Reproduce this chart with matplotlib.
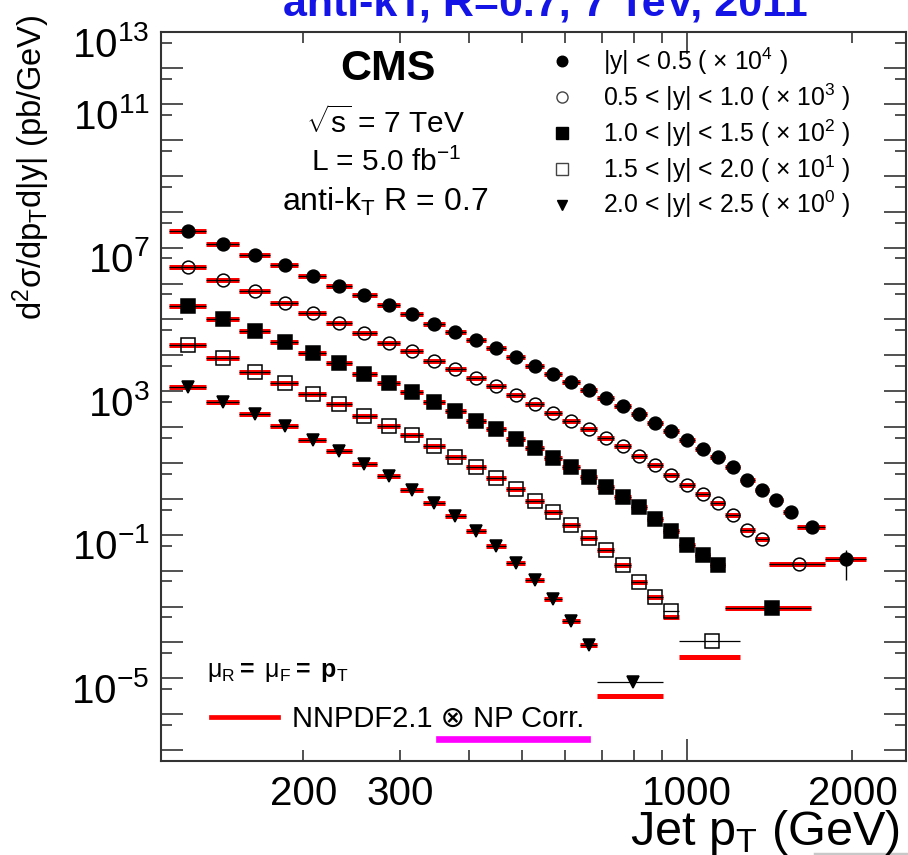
import numpy as np
import matplotlib.pyplot as plt
from matplotlib.lines import Line2D
from matplotlib.transforms import ScaledTranslation

plt.rcParams['font.family'] = ['Liberation Sans', 'DejaVu Sans']
plt.rcParams['mathtext.fontset'] = 'custom'
plt.rcParams['mathtext.rm'] = 'Liberation Sans'
plt.rcParams['mathtext.it'] = 'Liberation Sans:italic'
plt.rcParams['mathtext.bf'] = 'Liberation Sans:bold'

# CMS inclusive jet pT binning (GeV)
pt_edges = [114, 133, 153, 174, 196, 220, 245, 272, 300, 330, 362, 395, 430,
            468, 507, 548, 592, 638, 686, 737, 790, 846, 905, 967, 1032, 1101,
            1172, 1248, 1327, 1410, 1497, 1588]

# bin edges per rapidity slice (wide bins at the high-pT end)
edges_y0 = pt_edges[:32] + [1784, 2116]
edges_y1 = pt_edges[:30] + [1784]
edges_y2 = pt_edges[:27] + [1684]
edges_y3 = pt_edges[:24] + [1248]
edges_y4 = pt_edges[:19] + [905]

# measured d2sigma/dpT d|y| (pb/GeV), unscaled
xs_y0 = [2.85e3, 1.30e3, 6.25e2, 3.18e2, 1.62e2, 88.1, 46.9, 24.6, 14.4, 7.64,
         4.60, 2.69, 1.55, 0.873, 0.514, 0.304, 0.180, 0.106, 0.0638, 0.0385,
         0.0228, 0.0133, 7.64e-3, 4.41e-3, 2.49e-3, 1.48e-3, 7.85e-4, 3.37e-4,
         1.79e-4, 9.14e-5, 4.36e-5, 1.66e-5, 2.10e-6]
xs_y1 = [2.81e3, 1.23e3, 6.15e2, 2.94e2, 1.50e2, 77.8, 42.5, 22.7, 13.0, 7.00,
         4.26, 2.36, 1.36, 0.807, 0.448, 0.254, 0.149, 0.0883, 0.0500, 0.0288,
         0.0160, 8.69e-3, 4.61e-3, 2.45e-3, 1.39e-3, 7.71e-4, 3.55e-4, 1.34e-4,
         7.59e-5, 1.50e-5]
xs_y2 = [2.38e3, 1.03e3, 4.91e2, 2.34e2, 1.17e2, 62.1, 30.4, 16.4, 9.27, 4.93,
         2.75, 1.49, 0.883, 0.479, 0.258, 0.141, 0.0766, 0.0417, 0.0212, 0.0113,
         5.98e-3, 2.81e-3, 1.29e-3, 5.32e-4, 2.65e-4, 1.41e-4, 9.08e-6]
xs_y3 = [1.90e3, 8.20e2, 3.52e2, 1.69e2, 85.9, 42.9, 20.5, 10.4, 5.97, 2.92,
         1.48, 0.774, 0.382, 0.187, 0.0875, 0.0432, 0.0184, 7.93e-3, 3.88e-3,
         1.41e-3, 4.91e-4, 1.90e-4, 7.38e-5, 1.11e-5]
xs_y4 = [1.28e3, 5.08e2, 2.38e2, 1.05e2, 44.9, 21.0, 9.25, 4.25, 1.81, 0.785,
         0.333, 0.129, 0.0478, 0.0166, 5.47e-3, 1.63e-3, 3.92e-4, 8.59e-5,
         7.93e-6]

# NNPDF2.1 x NP prediction, where it departs from the data
theory_y3 = {22: 5.14e-5, 23: 4.03e-6}
theory_y4 = {18: 3.27e-6}

# stat. error on the last |y|<0.5 point (lower, upper bound)
err_y0_last = (5.47e-7, 3.88e-6)

scales = [1e4, 1e3, 1e2, 1e1, 1e0]
labels = ['|y| < 0.5 ( × 10$^{4}$ )', '0.5 < |y| < 1.0 ( × 10$^{3}$ )',
          '1.0 < |y| < 1.5 ( × 10$^{2}$ )', '1.5 < |y| < 2.0 ( × 10$^{1}$ )',
          '2.0 < |y| < 2.5 ( × 10$^{0}$ )']
markers = [('o', 'black', 9.2), ('o', 'none', 9.2), ('s', 'black', 10.5),
           ('s', 'none', 10.0), ('v', 'black', 9.0)]
legend_ms = [7.6, 8.0, 8.8, 8.4, 7.4]

series = [(edges_y0, xs_y0, {}), (edges_y1, xs_y1, {}), (edges_y2, xs_y2, {}),
          (edges_y3, xs_y3, theory_y3), (edges_y4, xs_y4, theory_y4)]

fig = plt.figure(figsize=(9.08, 8.55), dpi=100)
ax = fig.add_axes([0.17698, 0.11006, 0.82048, 0.85216])
ax.set_xscale('log')
ax.set_yscale('log')

handles = []
for (edges, xs, th), sc, (mk, fc, ms), lms in zip(series, scales, markers,
                                                  legend_ms):
    lo = np.array(edges[:-1], dtype=float)
    hi = np.array(edges[1:], dtype=float)
    mid = 0.5 * (lo + hi)
    y = np.array(xs) * sc
    yth = y.copy()
    for i, v in th.items():
        yth[i] = v * sc
    ax.hlines(yth, lo, hi, color='red', lw=3.6, zorder=2)
    ax.hlines(y, lo, hi, color='black', lw=0.9, zorder=3)
    ax.plot(mid, y, ls='none', marker=mk, ms=ms, mfc=fc, mec='black',
            mew=1.1, color='black', zorder=4)
    handles.append(Line2D([], [], ls='none', marker=mk, ms=lms, mfc=fc,
                          mec='black' if fc != 'none' else '#444444', mew=1.0))

# vertical error bar on the highest-pT central point
x_last = 0.5 * (edges_y0[-2] + edges_y0[-1])
ax.vlines(x_last, err_y0_last[0] * scales[0], err_y0_last[1] * scales[0],
          color='black', lw=1.0, zorder=3)

ax.set_xlim(110, 2500)
ax.set_ylim(1e-7, 1e13)

ax.set_xticks([1000], labels=['1000'])
ax.set_xticks([200, 300, 400, 500, 600, 700, 800, 900, 2000], minor=True,
              labels=['200', '300', '', '', '', '', '', '', '2000'])
ydec = [10.0 ** k for k in range(-7, 14)]
ylab = {13: '$10^{13}$', 11: '$10^{11}$', 7: '$10^{7}$', 3: '$10^{3}$',
        -1: '$10^{\\mathregular{-1}}$', -5: '$10^{\\mathregular{-5}}$'}
ax.set_yticks(ydec, labels=[ylab.get(k, '') for k in range(-7, 14)])
ax.set_yticks([5 * 10.0 ** k for k in range(-8, 13)], minor=True,
              labels=[''] * 21)
ax.tick_params(which='both', direction='in', top=True, right=True,
               width=1.2, color='#333333', labelsize=29)
ax.tick_params(which='major', length=15.8)
ax.tick_params(which='minor', length=7.9)
ax.tick_params(axis='x', which='both', pad=10)
ax.tick_params(axis='y', which='both', pad=8)
# ROOT-style: exponent labels sit a little below their tick
shift = ScaledTranslation(0, -0.09, fig.dpi_scale_trans)
for t in ax.get_yticklabels():
    t.set_transform(t.get_transform() + shift)
for s in ax.spines.values():
    s.set_linewidth(1.5)
    s.set_color('#333333')

# annotation text
fig.text(388 / 908, 1 - 69 / 855, 'CMS', ha='center', va='center',
         fontsize=31, fontweight='bold')
fig.text(386 / 908, 1 - 122 / 855, r'$\sqrt{\mathregular{s}}$ = 7 TeV',
         ha='center', va='center', fontsize=21.5)
fig.text(386 / 908, 1 - 162 / 855, 'L = 5.0 fb$^{\\mathregular{-1}}$',
         ha='center', va='center', fontsize=21.5)
fig.text(385 / 908, 1 - 202 / 855, 'anti-k$_{\\mathregular{T}}$ R = 0.7',
         ha='center', va='center', fontsize=23)

leg1 = ax.legend(handles, labels, loc='center left', frameon=False,
                 bbox_to_anchor=(547 / 908, 1 - 133 / 855),
                 bbox_transform=fig.transFigure, fontsize=17.8,
                 handlelength=1.2, handletextpad=1.05, labelspacing=0.18,
                 borderpad=0, borderaxespad=0)
ax.add_artist(leg1)

fig.text(207 / 908, 1 - 672 / 855,
         'μ$_{\\mathregular{R}}$$\\mathbf{=}$ μ$_{\\mathregular{F}}$$\\mathbf{=}$ '
         '$\\mathbf{p}_{\\mathregular{T}}$',
         ha='left', va='center', fontsize=18)
th_handle = Line2D([], [], color='red', lw=3.4)
ax.legend([th_handle], ['NNPDF2.1 ⊗ NP Corr.'], loc='center left',
          frameon=False, bbox_to_anchor=(211 / 908, 1 - 719 / 855),
          bbox_transform=fig.transFigure, fontsize=21, handlelength=2.3,
          handletextpad=0.47, borderpad=0, borderaxespad=0)
fig.add_artist(Line2D([439 / 908, 587 / 908], [1 - 738.7 / 855] * 2,
                      transform=fig.transFigure, color='#ff00ff', lw=4.8))

fig.text(31 / 908, 1 - 167 / 855,
         'd$^{2}$σ/dp$_{\\mathregular{T}}$d|y| (pb/GeV)', rotation=90,
         ha='center', va='center', fontsize=23.5)
fig.text(900 / 908, 1 - 845 / 855, 'Jet p$_{\\mathregular{T}}$ (GeV)',
         ha='right', va='baseline', fontsize=35)
fig.text(545 / 908, 1 - 16 / 855, 'anti-kT, R=0.7, 7 TeV, 2011',
         ha='center', va='baseline', fontsize=31, fontweight='bold',
         color='#1414e6')
# thin grey strip along the lower right edge
fig.add_artist(Line2D([815 / 908, 1.0], [1 - 853.5 / 855] * 2,
                      transform=fig.transFigure, color='#c8c8c8', lw=2.5))

fig.savefig('out.png', dpi=100)
